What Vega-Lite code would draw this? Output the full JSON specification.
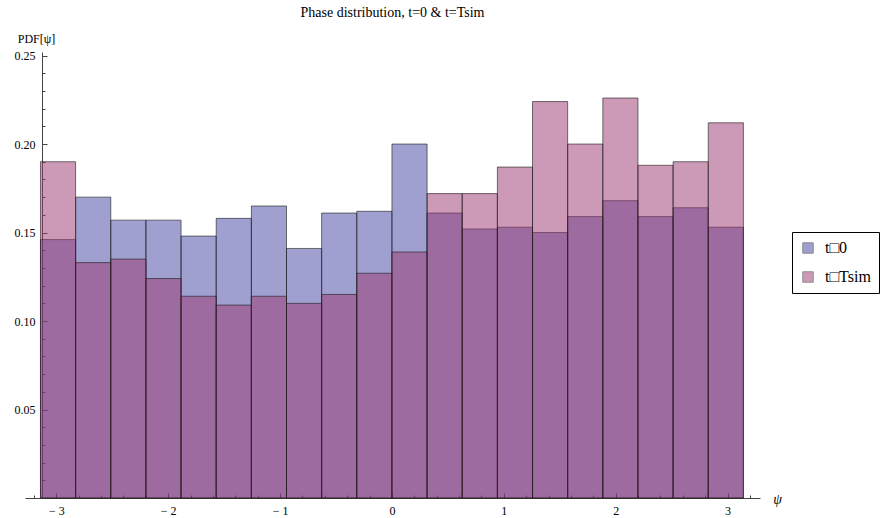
{
  "$schema": "https://vega.github.io/schema/vega-lite/v6.json",
  "width": 735,
  "height": 446,
  "autosize": "none",
  "padding": {"left": 25, "top": 52, "right": 120, "bottom": 20},
  "background": "white",
  "title": {"text": "Phase distribution, t=0 & t=Tsim", "font": "Liberation Serif", "fontSize": 14, "fontWeight": "normal", "color": "#000", "anchor": "middle", "frame": "group", "offset": 12},
  "data": {"values": [
    {"series": "t□0", "x0": -3.1416, "x1": -2.8274, "pdf": 0.146},
    {"series": "t□0", "x0": -2.8274, "x1": -2.5133, "pdf": 0.170},
    {"series": "t□0", "x0": -2.5133, "x1": -2.1991, "pdf": 0.157},
    {"series": "t□0", "x0": -2.1991, "x1": -1.8850, "pdf": 0.157},
    {"series": "t□0", "x0": -1.8850, "x1": -1.5708, "pdf": 0.148},
    {"series": "t□0", "x0": -1.5708, "x1": -1.2566, "pdf": 0.158},
    {"series": "t□0", "x0": -1.2566, "x1": -0.9425, "pdf": 0.165},
    {"series": "t□0", "x0": -0.9425, "x1": -0.6283, "pdf": 0.141},
    {"series": "t□0", "x0": -0.6283, "x1": -0.3142, "pdf": 0.161},
    {"series": "t□0", "x0": -0.3142, "x1": 0.0, "pdf": 0.162},
    {"series": "t□0", "x0": 0.0, "x1": 0.3142, "pdf": 0.200},
    {"series": "t□0", "x0": 0.3142, "x1": 0.6283, "pdf": 0.161},
    {"series": "t□0", "x0": 0.6283, "x1": 0.9425, "pdf": 0.152},
    {"series": "t□0", "x0": 0.9425, "x1": 1.2566, "pdf": 0.153},
    {"series": "t□0", "x0": 1.2566, "x1": 1.5708, "pdf": 0.150},
    {"series": "t□0", "x0": 1.5708, "x1": 1.8850, "pdf": 0.159},
    {"series": "t□0", "x0": 1.8850, "x1": 2.1991, "pdf": 0.168},
    {"series": "t□0", "x0": 2.1991, "x1": 2.5133, "pdf": 0.159},
    {"series": "t□0", "x0": 2.5133, "x1": 2.8274, "pdf": 0.164},
    {"series": "t□0", "x0": 2.8274, "x1": 3.1416, "pdf": 0.153},
    {"series": "t□Tsim", "x0": -3.1416, "x1": -2.8274, "pdf": 0.190},
    {"series": "t□Tsim", "x0": -2.8274, "x1": -2.5133, "pdf": 0.133},
    {"series": "t□Tsim", "x0": -2.5133, "x1": -2.1991, "pdf": 0.135},
    {"series": "t□Tsim", "x0": -2.1991, "x1": -1.8850, "pdf": 0.124},
    {"series": "t□Tsim", "x0": -1.8850, "x1": -1.5708, "pdf": 0.114},
    {"series": "t□Tsim", "x0": -1.5708, "x1": -1.2566, "pdf": 0.109},
    {"series": "t□Tsim", "x0": -1.2566, "x1": -0.9425, "pdf": 0.114},
    {"series": "t□Tsim", "x0": -0.9425, "x1": -0.6283, "pdf": 0.110},
    {"series": "t□Tsim", "x0": -0.6283, "x1": -0.3142, "pdf": 0.115},
    {"series": "t□Tsim", "x0": -0.3142, "x1": 0.0, "pdf": 0.127},
    {"series": "t□Tsim", "x0": 0.0, "x1": 0.3142, "pdf": 0.139},
    {"series": "t□Tsim", "x0": 0.3142, "x1": 0.6283, "pdf": 0.172},
    {"series": "t□Tsim", "x0": 0.6283, "x1": 0.9425, "pdf": 0.172},
    {"series": "t□Tsim", "x0": 0.9425, "x1": 1.2566, "pdf": 0.187},
    {"series": "t□Tsim", "x0": 1.2566, "x1": 1.5708, "pdf": 0.224},
    {"series": "t□Tsim", "x0": 1.5708, "x1": 1.8850, "pdf": 0.200},
    {"series": "t□Tsim", "x0": 1.8850, "x1": 2.1991, "pdf": 0.226},
    {"series": "t□Tsim", "x0": 2.1991, "x1": 2.5133, "pdf": 0.188},
    {"series": "t□Tsim", "x0": 2.5133, "x1": 2.8274, "pdf": 0.190},
    {"series": "t□Tsim", "x0": 2.8274, "x1": 3.1416, "pdf": 0.212}
  ]},
  "mark": {"type": "bar", "fillOpacity": 0.5, "stroke": "#1a1a1a", "strokeOpacity": 0.6, "strokeWidth": 1},
  "encoding": {
    "x": {
      "field": "x0", "type": "quantitative",
      "scale": {"domain": [-3.28, 3.29], "nice": false, "zero": false},
      "axis": {
        "values": [-3.2, -3, -2.8, -2.6, -2.4, -2.2, -2, -1.8, -1.6, -1.4, -1.2, -1, -0.8, -0.6, -0.4, -0.2, 0, 0.2, 0.4, 0.6, 0.8, 1, 1.2, 1.4, 1.6, 1.8, 2, 2.2, 2.4, 2.6, 2.8, 3, 3.2],
        "labelExpr": "abs(datum.value - round(datum.value)) < 0.001 ? (datum.value < -0.5 ? '\u2212 ' + abs(round(datum.value)) : '' + round(datum.value)) : ''",
        "tickSize": {"condition": {"test": "abs(datum.value - round(datum.value)) < 0.001", "value": -5}, "value": -3},
        "labelPadding": 12,
        "labelFont": "Liberation Serif", "labelFontSize": 12, "labelColor": "#000",
        "labelFlush": false, "labelOverlap": false,
        "domainColor": "#444", "tickColor": "#444",
        "title": "ψ", "titleX": 752, "titleY": 1, "titleAlign": "center", "titleBaseline": "middle",
        "titleFont": "Liberation Serif", "titleFontSize": 14, "titleFontWeight": "normal", "titleFontStyle": "italic", "titleColor": "#000"
      }
    },
    "x2": {"field": "x1"},
    "y": {
      "field": "pdf", "type": "quantitative", "stack": null,
      "scale": {"domain": [0, 0.252], "nice": false},
      "axis": {
        "offset": -17,
        "values": [0.01, 0.02, 0.03, 0.04, 0.05, 0.06, 0.07, 0.08, 0.09, 0.1, 0.11, 0.12, 0.13, 0.14, 0.15, 0.16, 0.17, 0.18, 0.19, 0.2, 0.21, 0.22, 0.23, 0.24, 0.25],
        "labelExpr": "abs(datum.value * 20 - round(datum.value * 20)) < 0.001 ? format(datum.value, '.2f') : ''",
        "tickSize": {"condition": {"test": "abs(datum.value * 20 - round(datum.value * 20)) < 0.001", "value": -5}, "value": -3},
        "labelPadding": 12,
        "labelFont": "Liberation Serif", "labelFontSize": 12, "labelColor": "#000",
        "labelFlush": false, "labelOverlap": false,
        "domainColor": "#444", "tickColor": "#444",
        "title": "PDF[ψ]", "titleAngle": 0, "titleX": -6, "titleY": -14, "titleAlign": "center", "titleBaseline": "middle",
        "titleFont": "Liberation Serif", "titleFontSize": 12, "titleFontWeight": "normal", "titleColor": "#000"
      }
    },
    "y2": {"datum": 0},
    "color": {
      "field": "series", "type": "nominal", "sort": null,
      "scale": {"domain": ["t□0", "t□Tsim"], "range": ["#4141a1", "#99356d"]},
      "legend": {
        "title": null, "orient": "none", "legendX": 767, "legendY": 180,
        "strokeColor": "#000", "fillColor": "#fff", "padding": 8,
        "rowPadding": 13, "symbolType": "square", "symbolSize": 110,
        "symbolOpacity": 0.5, "symbolStrokeColor": "#222", "symbolStrokeWidth": 1,
        "labelFont": "Liberation Serif", "labelFontSize": 16, "labelColor": "#000", "labelOffset": 9
      }
    }
  },
  "config": {"view": {"stroke": null}, "axis": {"grid": false}}
}
